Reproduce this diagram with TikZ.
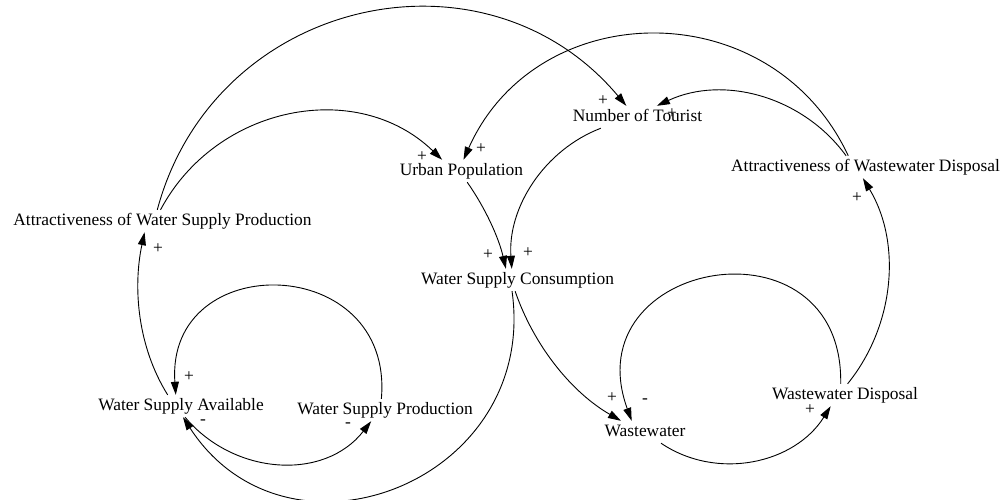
\documentclass[tikz,border=0pt]{standalone}
\usepackage{fontspec}
\setmainfont{Liberation Serif}
\usetikzlibrary{arrows.meta}
\begin{document}
\begin{tikzpicture}[x=1pt,y=1pt,
  var/.style={inner xsep=2pt,inner ysep=3pt,text height=12pt,text depth=4pt,
    font=\fontsize{17.4}{20}\selectfont},
  link/.style={line width=0.9pt,-{Triangle[length=13pt,width=8pt]}},
  sign/.style={inner sep=0pt,font=\fontsize{17.4}{20}\selectfont}]
\useasboundingbox (0,0) rectangle (1008,-499);

% variables
\node[var] (awsp) at (162.5,-221) {Attractiveness of Water Supply Production};
\node[var] (up)   at (461.5,-171) {Urban Population};
\node[var] (not)  at (637.5,-117) {Number of Tourist};
\node[var] (awwd) at (865.5,-167) {Attractiveness of Wastewater Disposal};
\node[var] (wsc)  at (517.5,-280) {Water Supply Consumption};
\node[var] (wsa)  at (181,-406)   {Water Supply Available};
\node[var] (wsp)  at (385,-410)   {Water Supply Production};
\node[var] (ww)   at (645,-432)   {Wastewater};
\node[var] (wwd)  at (845,-395)   {Wastewater Disposal};

% causal links
\draw[link] (awsp.115) to[out=75,in=130,looseness=1.17] (not.135);
\draw[link] (awsp.100) to[out=62,in=136,looseness=1.06] (up.150);
\draw[link] (awwd.147) to[out=115,in=66,looseness=1.2] (up.80);
\draw[link] (awwd.150) to[out=126,in=25,looseness=0.96] (not.30);
\draw[link] (up.-63) to[out=-55,in=103,looseness=0.86] (wsc.136);
\draw[link] (not.197) to[out=201,in=94,looseness=0.94] (wsc.117);
\draw[link] (wsc.-102) to[out=-71,in=150,looseness=0.88] (ww.155);
\draw[link] (wsc.-116) to[out=-82,in=-57,looseness=1.4] (wsa.-80);
\draw[link] (wsp.108) to[out=85,in=94,looseness=1.83] (wsa.115);
\draw[link] (wsa.-70) to[out=-50,in=232,looseness=1.045] (wsp.219);
\draw[link] (wsa.140) to[out=122,in=-102,looseness=0.884] (awsp.212);
\draw[link] (ww.-35) to[out=-34,in=238,looseness=1.0] (wwd.218);
\draw[link] (wwd.111) to[out=89,in=110,looseness=2.08] (ww.140);
\draw[link] (wwd.77) to[out=51,in=-59,looseness=0.935] (awwd.-103);

% link polarities
\node[sign] (pa) at (603,-101) {+};
\node[sign] (pb) at (422,-157) {+};
\node[sign] (pc) at (481,-149) {+};
\node[sign] (pd) at (672,-114) {+};
\node[sign] (pe) at (488,-255) {+};
\node[sign] (pf) at (528,-253) {+};
\node[sign] (pg) at (612,-398) {+};
\node[sign] (ph) at (203,-422) {-};
\node[sign] (pi) at (189,-377) {+};
\node[sign] (pj) at (348,-425) {-};
\node[sign] (pk) at (158,-249) {+};
\node[sign] (pl) at (810,-410) {+};
\node[sign] (pm) at (645,-401) {-};
\node[sign] (pn) at (857,-198) {+};
\end{tikzpicture}
\end{document}
